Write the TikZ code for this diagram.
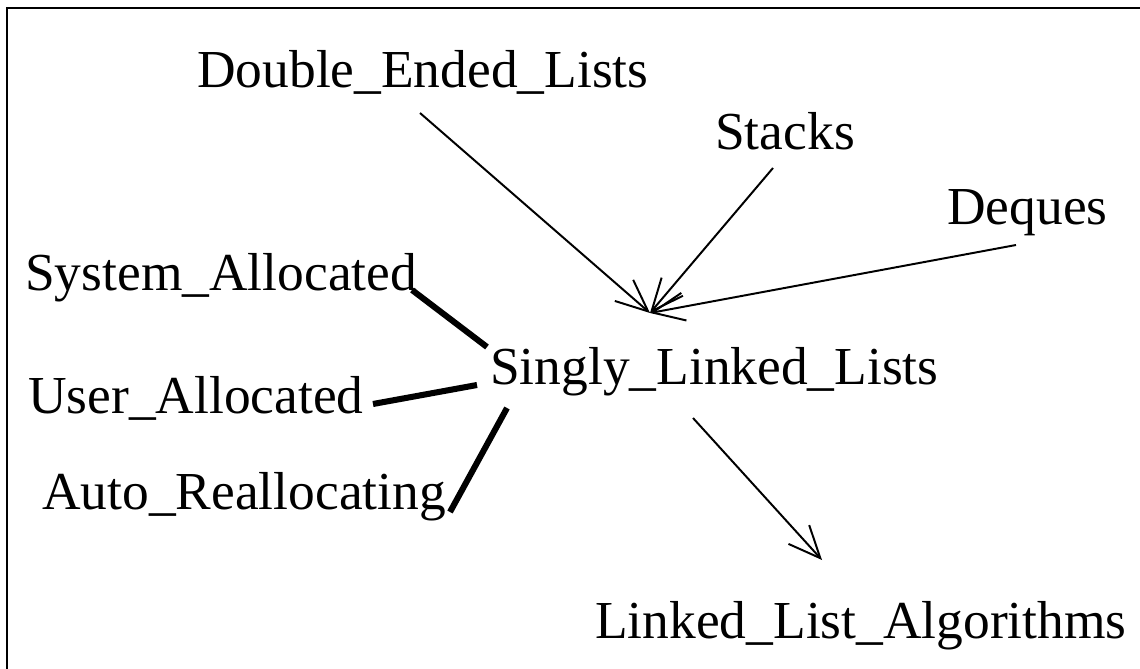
\documentclass[tikz,border=0pt]{standalone}
\usepackage{fontspec}
\setmainfont{Liberation Serif}
\usetikzlibrary{arrows.meta}
\tikzset{
    pkg/.style={anchor=base west, inner sep=0pt, font=\fontsize{38}{44}\selectfont},
    uses/.style={draw, line width=1.4pt, -{Straight Barb[length=8mm,width=7mm]}},
    with/.style={draw, line width=4.3pt},
    frame/.style={draw, line width=2pt}
}

\begin{document}
\begin{tikzpicture}[x=0.025cm, y=-0.025cm]
    \useasboundingbox (0,0) rectangle (1140,669);

    % open frame round the picture
    \draw[frame] (7,669) -- (7,8) -- (1140,8);

    % the packages
    \node[pkg] (del) at (197,88) {Double\_Ended\_Lists};
    \node[pkg] (stk) at (715,150) {Stacks};
    \node[pkg] (deq) at (947,225) {Deques};
    \node[pkg] (sys) at (25,291) {System\_Allocated};
    \node[pkg] (sll) at (490,385) {Singly\_Linked\_Lists};
    \node[pkg] (usr) at (28,414) {User\_Allocated};
    \node[pkg] (aut) at (42,510) {Auto\_Reallocating};
    \node[pkg] (lla) at (595,638) {Linked\_List\_Algorithms};

    % end points of the connectors
    \coordinate (hub) at (650,313);
    \coordinate (delEnd) at (420,113);
    \coordinate (stkEnd) at (773,168);
    \coordinate (deqEnd) at (1016,245);
    \coordinate (sllOut) at (693,418);
    \coordinate (llaIn) at (822,560);
    \coordinate (sysEnd) at (412,290);
    \coordinate (sysIn) at (487,347);
    \coordinate (usrEnd) at (373,404);
    \coordinate (usrIn) at (477,385);
    \coordinate (autEnd) at (450,512);
    \coordinate (autIn) at (507,408);

    % arrows
    \draw[uses] (delEnd) -- (hub);
    \draw[uses] (stkEnd) -- (hub);
    \draw[uses] (deqEnd) -- (hub);
    \draw[uses] (sllOut) -- (llaIn);

    % thick links
    \draw[with] (sysEnd) -- (sysIn);
    \draw[with] (usrEnd) -- (usrIn);
    \draw[with] (autEnd) -- (autIn);
\end{tikzpicture}
\end{document}
